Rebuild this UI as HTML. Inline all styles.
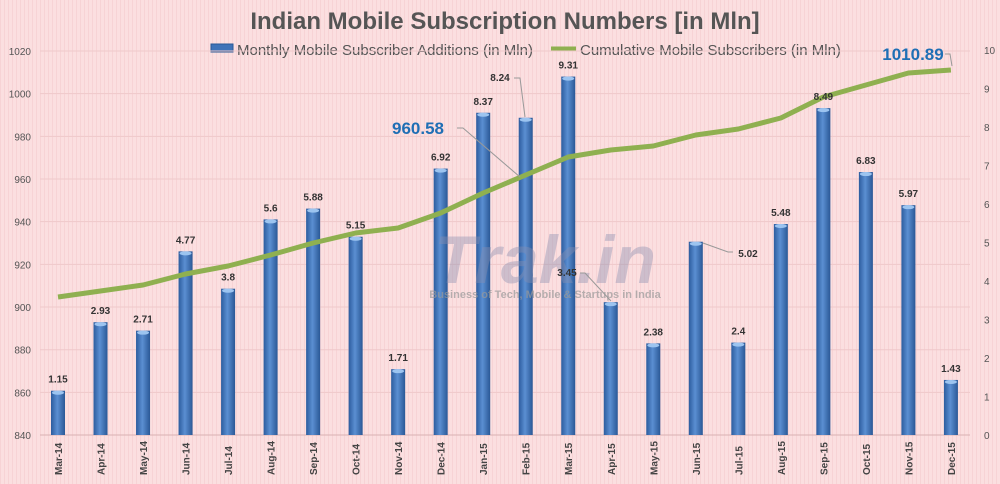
<!DOCTYPE html>
<html><head><meta charset="utf-8"><style>
body{margin:0;width:1000px;height:484px;overflow:hidden;background:#fbdfe0;font-family:"Liberation Sans",sans-serif}
svg{display:block}
</style></head><body>
<svg id="s" width="1000" height="484" xmlns="http://www.w3.org/2000/svg">
<defs>
<pattern id="st" width="4" height="4" patternUnits="userSpaceOnUse"><rect width="4" height="4" fill="#fbdfe0"/><rect width="1" height="4" fill="#f7d3d5"/></pattern>
<linearGradient id="bg" x1="0" x2="1" y1="0" y2="0"><stop offset="0" stop-color="#2c5c9e"/><stop offset="0.45" stop-color="#5b8fd2"/><stop offset="1" stop-color="#2a5896"/></linearGradient>
</defs>
<rect width="1000" height="484" fill="url(#st)"/>
<text x="505" y="29" text-anchor="middle" font-size="24" font-weight="bold" fill="#555">Indian Mobile Subscription Numbers [in Mln]</text>
<rect x="211" y="44" width="22" height="8" fill="#3f73b8" stroke="#2a5896"/>
<text x="237" y="55" font-size="15" fill="#555">Monthly Mobile Subscriber Additions (in Mln)</text>
<line x1="551" y1="49" x2="576" y2="49" stroke="#8fb050" stroke-width="5"/>
<text x="580" y="55" font-size="15" fill="#555">Cumulative Mobile Subscribers (in Mln)</text>
<g id="g"></g>
</svg>
<script>
var g=document.getElementById('g'),h='';
var m=['Mar-14','Apr-14','May-14','Jun-14','Jul-14','Aug-14','Sep-14','Oct-14','Nov-14','Dec-14','Jan-15','Feb-15','Mar-15','Apr-15','May-15','Jun-15','Jul-15','Aug-15','Sep-15','Oct-15','Nov-15','Dec-15'];
var v=[1.15,2.93,2.71,4.77,3.8,5.6,5.88,5.15,1.71,6.92,8.37,8.24,9.31,3.45,2.38,5.02,2.4,5.48,8.49,6.83,5.97,1.43];
var ly=[297,291,285,274,266,255,243,233,228,213,193,175,157,150,146,135,129,118,97,85,73,70];
for(var i=0;i<10;i++){var y=51+i*42.67;h+='<line x1="40" x2="970" y1="'+y+'" y2="'+y+'" stroke="#efc8ca"/>';}
for(var i=0;i<10;i++){var val=1020-i*20,y=51+i*42.67;h+='<text x="31" y="'+(y+4)+'" text-anchor="end" font-size="10" fill="#555">'+val+'</text>';}
for(var i=0;i<=10;i++){var y=435-i*38.5;h+='<text x="984" y="'+(y+4)+'" font-size="10" fill="#555">'+i+'</text>';}
h+='<line x1="40" x2="970" y1="435" y2="435" stroke="#d8b0b2"/>';
var pts=[],lab='';
for(var i=0;i<22;i++){var x=58+42.52*i,t=435-v[i]*38.5;
h+='<rect x="'+(x-7)+'" y="'+t+'" width="14" height="'+(435-t)+'" fill="url(#bg)"/><ellipse cx="'+x+'" cy="'+(t+2)+'" rx="6" ry="2" fill="#9cc4f0"/>';
h+='<text transform="translate('+(x+4)+',475) rotate(-90)" font-size="10" font-weight="bold" fill="#444">'+m[i]+'</text>';
if(!(i==13||i==15||i==11))lab+='<text x="'+x+'" y="'+(t-8)+'" text-anchor="middle" font-size="10" font-weight="bold" fill="#333">'+v[i]+'</text>';
pts.push(x+','+ly[i]);}
h+='<text x="545" y="283" text-anchor="middle" font-size="68" font-weight="bold" font-style="italic" fill="#8a8fb0" opacity="0.4">Trak.in</text>';
h+='<text x="545" y="298" text-anchor="middle" font-size="11" font-weight="bold" fill="#999" opacity="0.7">Business of Tech, Mobile &amp; Startups in India</text>';
h+='<polyline points="'+pts.join(' ')+'" fill="none" stroke="#8fb050" stroke-width="5" stroke-linejoin="round"/>';
h+=lab;
h+='<text x="500" y="81" text-anchor="middle" font-size="10" font-weight="bold" fill="#333">8.24</text><polyline points="514,78 520,78 525,117" fill="none" stroke="#999"/>';
h+='<text x="567" y="276" text-anchor="middle" font-size="10" font-weight="bold" fill="#333">3.45</text><polyline points="580,273 585,273 611,301" fill="none" stroke="#999"/>';
h+='<text x="748" y="257" text-anchor="middle" font-size="10" font-weight="bold" fill="#333">5.02</text><polyline points="733,252 728,252 703,243" fill="none" stroke="#999"/>';
h+='<text x="418" y="134" text-anchor="middle" font-size="17" font-weight="bold" fill="#1f6fb5">960.58</text><polyline points="457,128 463,128 520,177" fill="none" stroke="#999"/>';
h+='<text x="913" y="60" text-anchor="middle" font-size="17" font-weight="bold" fill="#1f6fb5">1010.89</text><polyline points="945,54 950,54 952,66" fill="none" stroke="#999"/>';
g.innerHTML=h;
</script>
</body></html>
